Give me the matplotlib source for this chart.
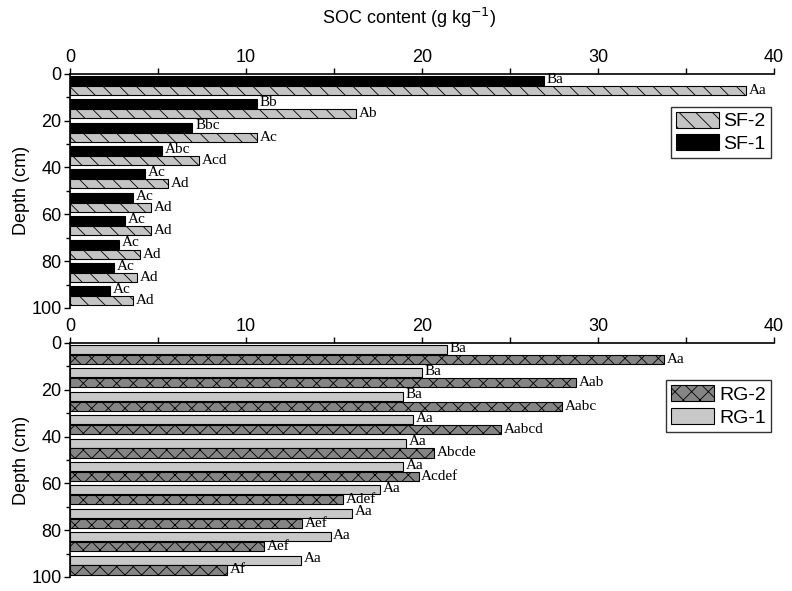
import matplotlib
matplotlib.use("Agg")
import matplotlib.pyplot as plt
import numpy as np
from matplotlib.ticker import MultipleLocator

plt.rcParams["font.family"] = ["Liberation Sans", "DejaVu Sans"]
plt.rcParams["hatch.linewidth"] = 0.6

depth_top = [0, 10, 20, 30, 40, 50, 60, 70, 80, 90]

sf1 = [26.9, 10.6, 6.95, 5.25, 4.25, 3.6, 3.15, 2.8, 2.5, 2.3]
sf2 = [38.4, 16.25, 10.6, 7.35, 5.55, 4.6, 4.6, 4.0, 3.8, 3.6]
sf1_lab = ["Ba", "Bb", "Bbc", "Abc", "Ac", "Ac", "Ac", "Ac", "Ac", "Ac"]
sf2_lab = ["Aa", "Ab", "Ac", "Acd", "Ad", "Ad", "Ad", "Ad", "Ad", "Ad"]

rg1 = [21.4, 20.0, 18.9, 19.5, 19.1, 18.9, 17.6, 16.0, 14.8, 13.1]
rg2 = [33.75, 28.75, 27.95, 24.5, 20.7, 19.8, 15.5, 13.2, 11.0, 8.9]
rg1_lab = ["Ba", "Ba", "Ba", "Aa", "Aa", "Aa", "Aa", "Aa", "Aa", "Aa"]
rg2_lab = ["Aa", "Aab", "Aabc", "Aabcd", "Abcde", "Acdef", "Adef", "Aef", "Aef", "Af"]

BAR_H = 3.9
OFF1, OFF2 = 2.8, 7.0

fig = plt.figure(figsize=(7.92, 5.91), dpi=100)
ax1 = fig.add_axes([0.0884, 0.479, 0.889, 0.396])
ax2 = fig.add_axes([0.0884, 0.0237, 0.889, 0.396])


def draw_panel(ax, v1, v2, lab1, lab2, kw1, kw2, name1, name2, leg_y):
    d = np.array(depth_top, dtype=float)
    b1 = ax.barh(d + OFF1, v1, height=BAR_H, edgecolor="black", lw=0.8, label=name1, **kw1)
    b2 = ax.barh(d + OFF2, v2, height=BAR_H, edgecolor="black", lw=0.8, label=name2, **kw2)
    for y, v, t in zip(d + OFF1, v1, lab1):
        ax.annotate(t, (v, y), xytext=(2, 1.0), textcoords="offset points",
                    va="center", ha="left", fontsize=11, family="Liberation Serif")
    for y, v, t in zip(d + OFF2, v2, lab2):
        ax.annotate(t, (v, y), xytext=(2, 0), textcoords="offset points",
                    va="center", ha="left", fontsize=11, family="Liberation Serif")
    ax.set_xlim(0, 40)
    ax.set_ylim(100, 0)
    ax.xaxis.tick_top()
    ax.xaxis.set_major_locator(MultipleLocator(10))
    ax.xaxis.set_minor_locator(MultipleLocator(5))
    ax.yaxis.set_major_locator(MultipleLocator(20))
    ax.yaxis.set_minor_locator(MultipleLocator(10))
    ax.tick_params(which="major", length=4, width=1, labelsize=13, pad=2)
    ax.tick_params(which="minor", length=4, width=1)
    ax.tick_params(axis="y", which="minor", length=3)
    for s in ("right", "bottom"):
        ax.spines[s].set_visible(False)
    for s in ("left", "top"):
        ax.spines[s].set_linewidth(1.2)
    ax.set_ylabel("Depth (cm)", fontsize=13, labelpad=1)
    ax.legend(handles=[b2, b1], loc="upper right", bbox_to_anchor=(0.995, leg_y),
              fontsize=14, frameon=True, fancybox=False, edgecolor="black",
              handlelength=2.2, handleheight=0.9, borderpad=0.25, labelspacing=0.2,
              handletextpad=0.25, borderaxespad=0.0)


draw_panel(ax1, sf1, sf2, sf1_lab, sf2_lab,
           dict(color="black"), dict(color="#c4c4c4", hatch="\\\\"),
           "SF-1", "SF-2", 0.86)
draw_panel(ax2, rg1, rg2, rg1_lab, rg2_lab,
           dict(color="#c8c8c8"), dict(color="#858585", hatch="xx"),
           "RG-1", "RG-2", 0.84)

fig.text(0.516, 0.97, "SOC content (g kg$^{-1}$)", ha="center", va="center", fontsize=13)

fig.savefig("out.png", dpi=100)
